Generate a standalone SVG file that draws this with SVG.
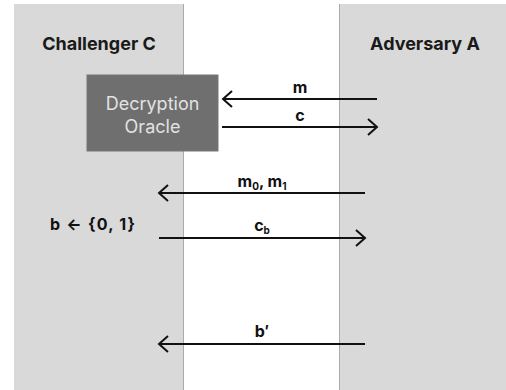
<svg xmlns="http://www.w3.org/2000/svg" width="506" height="390" viewBox="0 0 506 390">
<style>
.panel{fill:#d9d9d9}
.edge{stroke:#ababab;stroke-width:1}
.title{font-family:Inter,"Liberation Sans",sans-serif;font-weight:700;font-size:18px;fill:#1a1a1a}
.lbl{font-family:Inter,"Liberation Sans",sans-serif;font-weight:700;font-size:16px;fill:#111;text-anchor:middle}
.sub{font-size:10px}
.box{fill:#6f6f6f;stroke:#777;stroke-width:1}
.boxt{font-family:Inter,"Liberation Sans",sans-serif;font-size:18px;fill:#e2e2e2;text-anchor:middle}
.arr{stroke:#111;stroke-width:2;fill:none}
</style>
<defs>
<marker id="ah" viewBox="0 0 12 20" refX="10" refY="10" markerWidth="12" markerHeight="20" markerUnits="userSpaceOnUse" orient="auto">
<path d="M1,2 L10,10 L1,18" fill="none" stroke="#111" stroke-width="2"/>
</marker>
</defs>
<g id="challenger">
<rect class="panel" x="14" y="4" width="169" height="386"/>
<line class="edge" x1="183.5" y1="4" x2="183.5" y2="390"/>
<text class="title" x="99" y="50" text-anchor="middle">Challenger C</text>
<text class="lbl" x="92.5" y="230" textLength="85">b ← {0, 1}</text>
</g>
<g id="adversary">
<rect class="panel" x="339" y="4" width="167" height="386"/>
<line class="edge" x1="339.5" y1="4" x2="339.5" y2="390"/>
<text class="title" x="425" y="50" text-anchor="middle">Adversary A</text>
</g>
<g id="oracle">
<rect class="box" x="87" y="75" width="131" height="76"/>
<text class="boxt" x="152.5" y="110">Decryption</text>
<text class="boxt" x="152.5" y="133">Oracle</text>
</g>
<g id="connectors">
<line class="arr" x1="377" y1="99" x2="223" y2="99" marker-end="url(#ah)"/>
<text class="lbl" x="300" y="93">m</text>
<line class="arr" x1="222" y1="127" x2="377" y2="127" marker-end="url(#ah)"/>
<text class="lbl" x="300" y="121">c</text>
<line class="arr" x1="365" y1="193" x2="159" y2="193" marker-end="url(#ah)"/>
<text class="lbl" x="262" y="187">m<tspan class="sub" dy="3">0</tspan><tspan dy="-3">, m</tspan><tspan class="sub" dy="3">1</tspan></text>
<line class="arr" x1="159" y1="238" x2="365" y2="238" marker-end="url(#ah)"/>
<text class="lbl" x="262" y="231">c<tspan class="sub" dy="3">b</tspan></text>
<line class="arr" x1="365" y1="344" x2="159" y2="344" marker-end="url(#ah)"/>
<text class="lbl" x="262" y="337">b′</text>
</g>
</svg>
